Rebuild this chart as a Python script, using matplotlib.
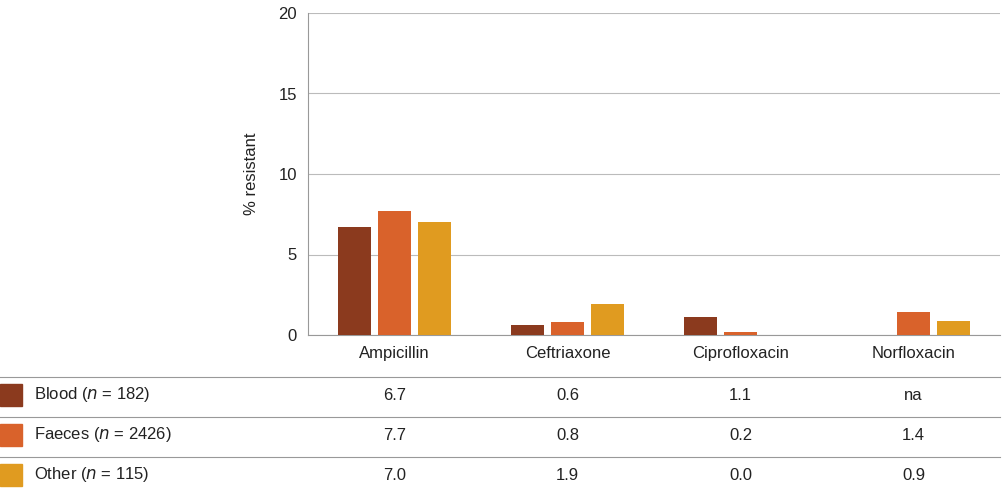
import matplotlib.pyplot as plt
import numpy as np

plt.rcParams['font.family'] = 'Liberation Sans'

drugs = ['Ampicillin', 'Ceftriaxone', 'Ciprofloxacin', 'Norfloxacin']
series = ['Blood', 'Faeces', 'Other']
counts = [182, 2426, 115]
blood = [6.7, 0.6, 1.1, None]
faeces = [7.7, 0.8, 0.2, 1.4]
other = [7.0, 1.9, 0.0, 0.9]
colors = ['#8B3A1E', '#D9622B', '#E09B20']

W, H = 1004, 493
fig = plt.figure(figsize=(W / 100, H / 100), dpi=100)
ax = fig.add_axes([308 / W, 1 - 335 / H, 692 / W, 322 / H])

x = np.arange(len(drugs))
for i, vals in enumerate([blood, faeces, other]):
    v = [0 if a is None else a for a in vals]
    ax.bar(x + (i - 1) * 0.23, v, width=0.19, color=colors[i], zorder=3)

ax.set_xlim(-0.5, 3.5)
ax.set_ylim(0, 20)
ax.set_yticks([0, 5, 10, 15, 20])
ax.grid(axis='y', color='#bbbbbb', lw=0.8, zorder=0)
for s in ['top', 'right']:
    ax.spines[s].set_visible(False)
ax.spines['left'].set_color('#999999')
ax.spines['bottom'].set_color('#999999')
ax.set_xticks(x)
ax.set_xticklabels(drugs, fontsize=12, color='#222222')
ax.tick_params(length=0, labelsize=12, colors='#222222', pad=8)
ax.set_ylabel('% resistant', fontsize=12, color='#222222', labelpad=14)

# data table below
rows_y = [395, 435, 475]
for y in [377, 417, 457]:
    fig.add_artist(plt.Line2D([0, 1000 / W], [1 - y / H] * 2, color='#999999', lw=0.8))
centers = [(308 + 173 * (k + 0.5)) / W for k in range(4)]
for r, (name, n, vals) in enumerate(zip(series, counts, [blood, faeces, other])):
    yy = 1 - rows_y[r] / H
    fig.add_artist(plt.Rectangle((0, yy - 11 / H), 22 / W, 22 / H, color=colors[r],
                                 transform=fig.transFigure))
    fig.text(34 / W, yy, name + ' ($\\it{n}$ = ' + str(n) + ')', fontsize=12,
             va='center', color='#222222')
    for k, v in enumerate(vals):
        fig.text(centers[k], yy, 'na' if v is None else f'{v:.1f}', fontsize=12,
                 ha='center', va='center', color='#222222')

fig.savefig('out.png', dpi=100)
